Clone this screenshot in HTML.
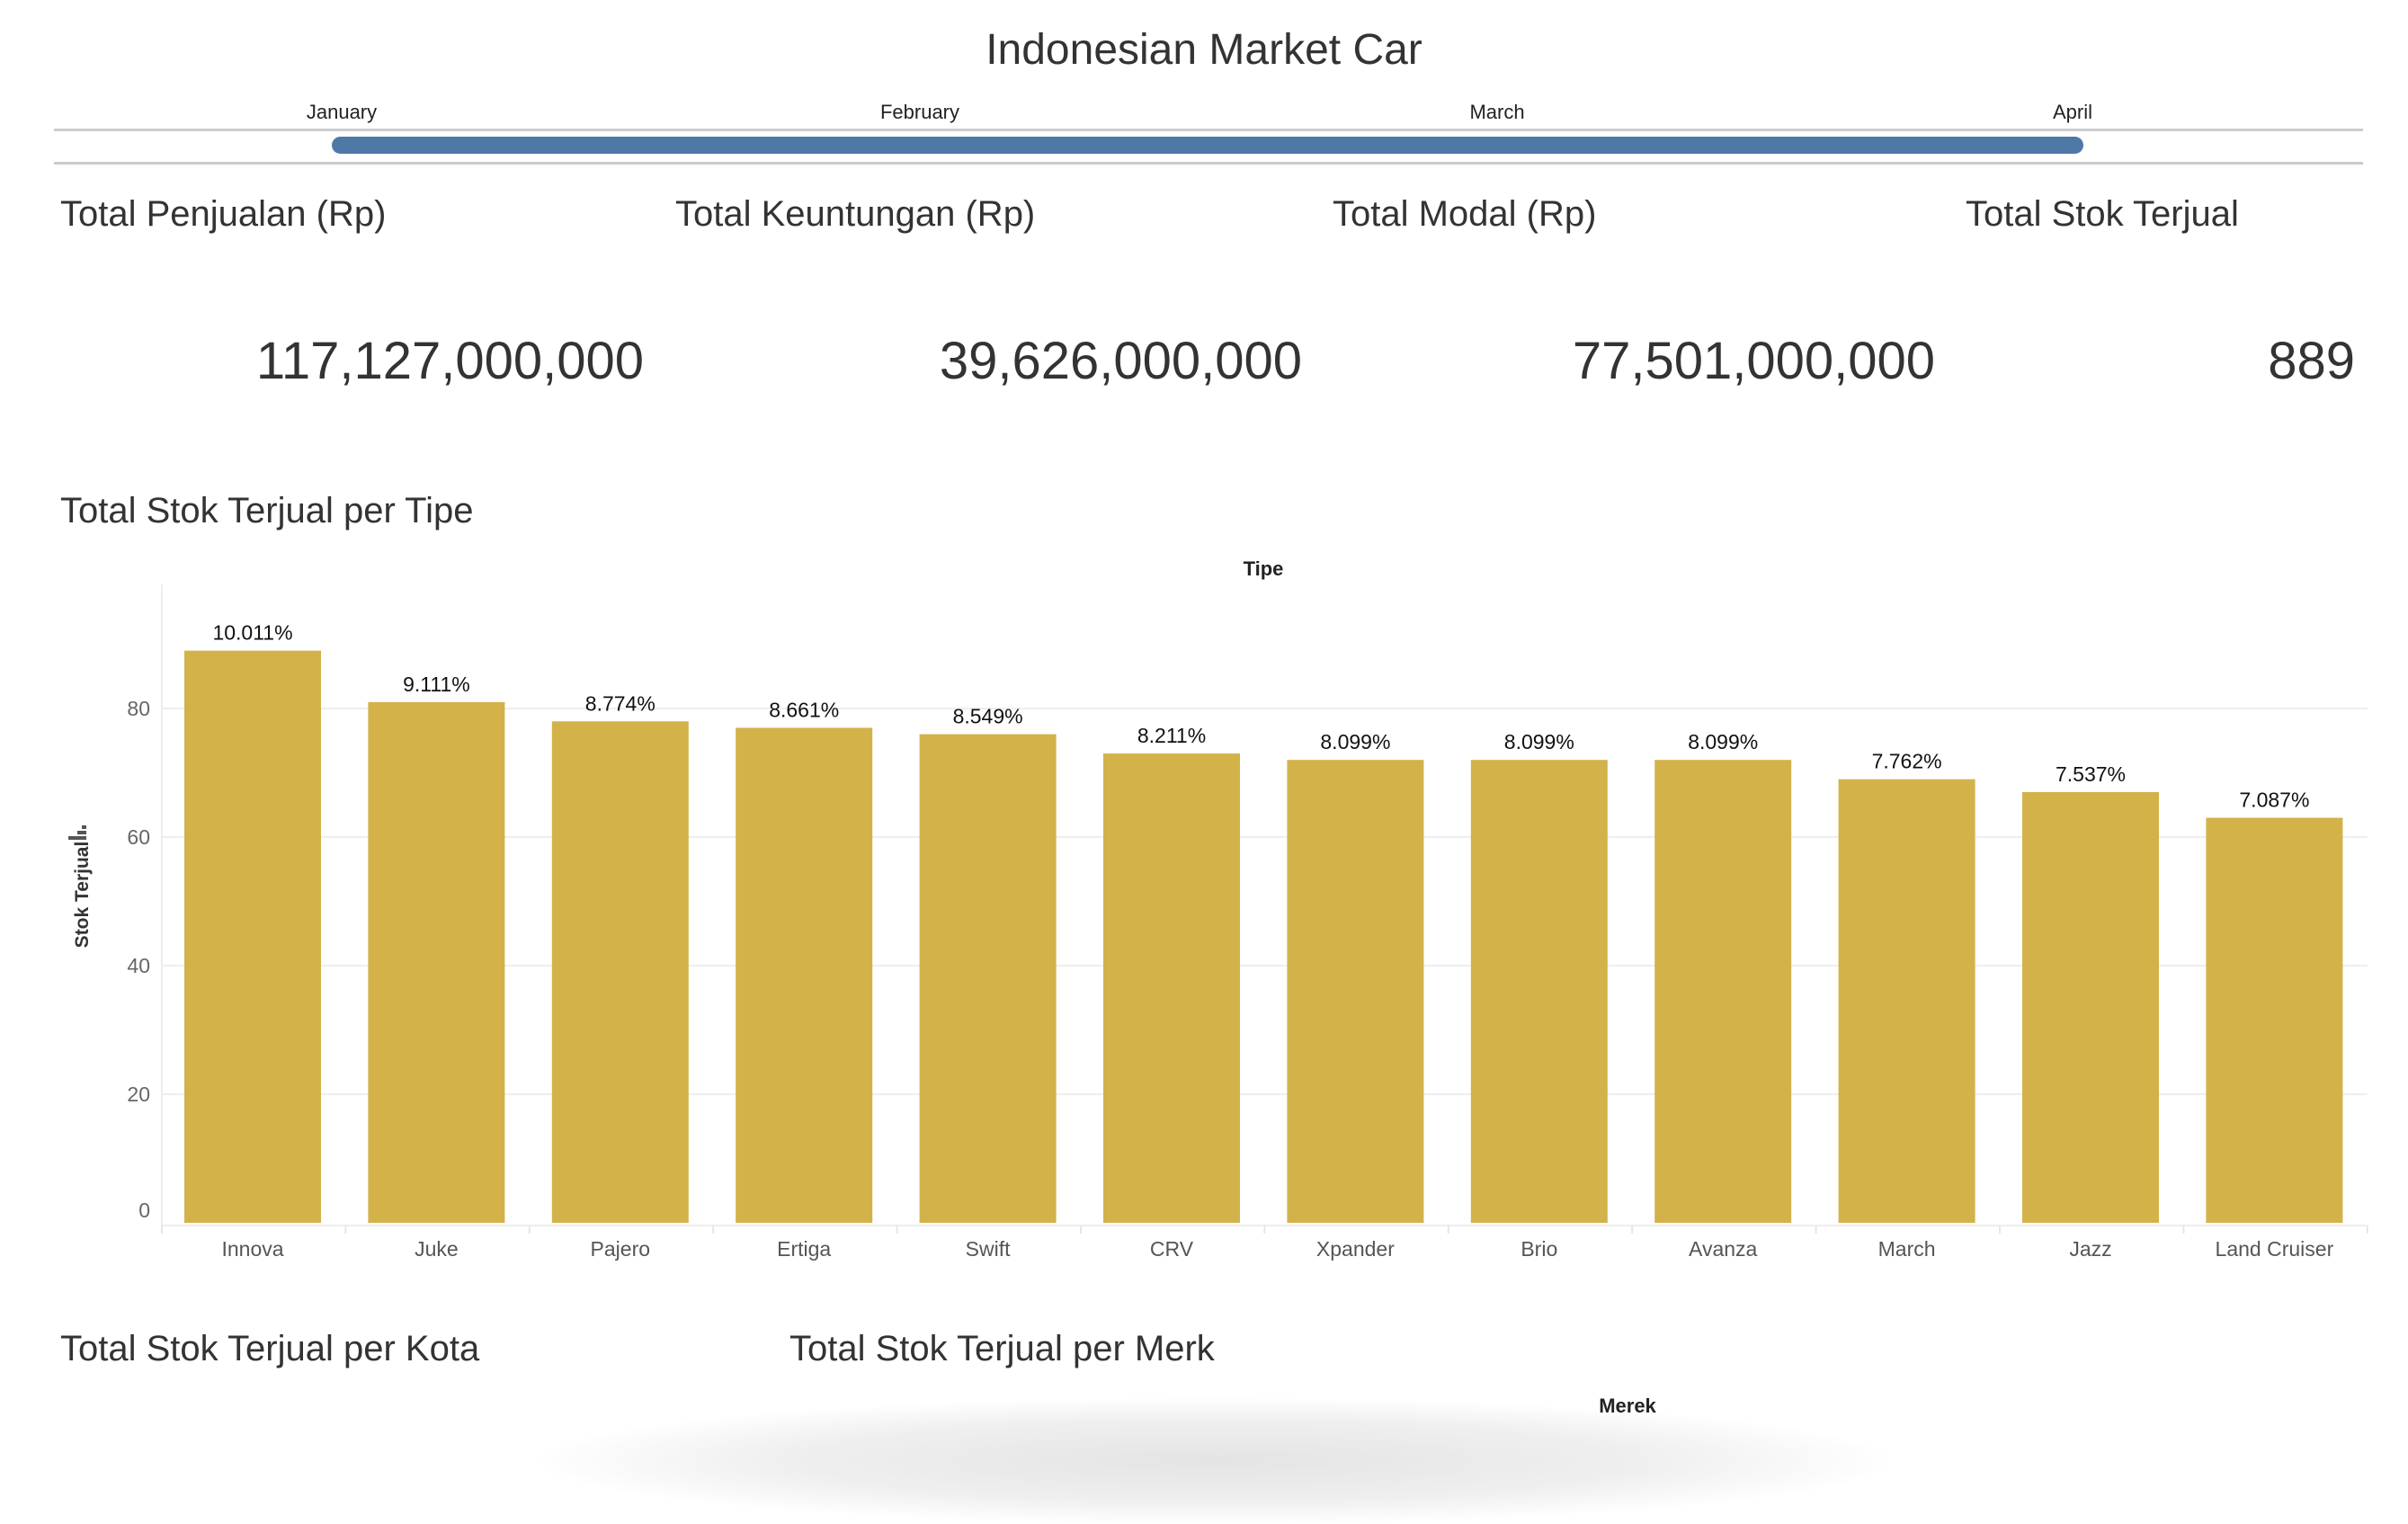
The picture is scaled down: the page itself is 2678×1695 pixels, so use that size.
<!DOCTYPE html>
<html><head><meta charset="utf-8"><style>
body{margin:0;width:2678px;height:1602px;background:#fff;overflow:hidden;font-family:"Liberation Sans",sans-serif;position:relative;color:#333}
.a{position:absolute;white-space:nowrap}
</style></head><body>
<div class="a" style="left:0;width:2678px;text-align:center;top:28px;font-size:48px;color:#333">Indonesian Market Car</div>
<div class="a" style="left:330px;width:100px;text-align:center;top:112px;font-size:22px;color:#222">January</div>
<div class="a" style="left:973px;width:100px;text-align:center;top:112px;font-size:22px;color:#222">February</div>
<div class="a" style="left:1615px;width:100px;text-align:center;top:112px;font-size:22px;color:#222">March</div>
<div class="a" style="left:2255px;width:100px;text-align:center;top:112px;font-size:22px;color:#222">April</div>
<div class="a" style="left:60px;width:2568px;top:143px;height:3px;background:#ccc"></div>
<div class="a" style="left:60px;width:2568px;top:180px;height:3px;background:#ccc"></div>
<div class="a" style="left:369px;width:1948px;top:152px;height:19px;border-radius:10px;background:#4e79a7"></div>

<div class="a" style="left:67px;top:216px;font-size:40px">Total Penjualan (Rp)</div>
<div class="a" style="left:751px;top:216px;font-size:40px">Total Keuntungan (Rp)</div>
<div class="a" style="left:1482px;top:216px;font-size:40px">Total Modal (Rp)</div>
<div class="a" style="left:2186px;top:216px;font-size:40px">Total Stok Terjual</div>
<div class="a" style="right:1962px;top:368px;font-size:58px">117,127,000,000</div>
<div class="a" style="right:1230px;top:368px;font-size:58px">39,626,000,000</div>
<div class="a" style="right:526px;top:368px;font-size:58px">77,501,000,000</div>
<div class="a" style="right:59px;top:368px;font-size:58px">889</div>

<div class="a" style="left:67px;top:546px;font-size:40px">Total Stok Terjual per Tipe</div>
<svg class="a" id="chart" style="left:0;top:600px" width="2678" height="820"></svg>

<div class="a" style="left:67px;top:1478px;font-size:40px">Total Stok Terjual per Kota</div>
<div class="a" style="left:878px;top:1478px;font-size:40px">Total Stok Terjual per Merk</div>
<div class="a" style="left:600px;width:1500px;top:1555px;height:140px;border-radius:50%;background:radial-gradient(ellipse at center,#e4e4e4 0%,#efefef 45%,rgba(255,255,255,0) 72%)"></div>
<div class="a" style="left:1760px;width:100px;text-align:center;top:1551px;font-size:22px;font-weight:bold;color:#222">Merek</div>

<script>
const categories=["Innova","Juke","Pajero","Ertiga","Swift","CRV","Xpander","Brio","Avanza","March","Jazz","Land Cruiser"];
const values=[89,81,78,77,76,73,72,72,72,69,67,63];
const yTicks=[0,20,40,60,80];
const NS="http://www.w3.org/2000/svg";
const svg=document.getElementById('chart');
const x0=180,step=204.4,y0=760,pxPer=7.15,total=values.reduce((a,b)=>a+b,0);
const yS=v=>y0-v*pxPer, xS=i=>x0+i*step;
function mk(t,at,txt){const e=document.createElementNS(NS,t);for(const k in at)e.setAttribute(k,at[k]);if(txt!==undefined)e.textContent=txt;svg.appendChild(e);return e;}
yTicks.forEach(t=>{
 if(t>0){const g=mk('line',{x1:x0,x2:xS(12),y1:yS(t),y2:yS(t),stroke:'#eeeeee','stroke-width':2});
 
 }
 const l=mk('text',{x:167,y:yS(t)+(t===0?-6:8),'text-anchor':'end','font-size':23,fill:'#666','font-family':'Liberation Sans'},t);
 
 
});
const ax=mk('line',{x1:x0,x2:x0,y1:50,y2:y0+6,stroke:'#eee','stroke-width':2});


const bl=mk('line',{x1:x0,x2:xS(12),y1:y0+3,y2:y0+3,stroke:'#eee','stroke-width':2});


const tt=mk('text',{x:1405,y:40,'text-anchor':'middle','font-size':22,'font-weight':'bold',fill:'#222','font-family':'Liberation Sans'},'Tipe');


const yt=mk('text',{transform:'translate(98,395) rotate(-90)','text-anchor':'middle','font-size':21,'font-weight':'bold',fill:'#333','font-family':'Liberation Sans'},'Stok Terjual');


const ic=mk('path',{d:'M78 316h4v20h-4zM84 326h4v10h-4zM90 331h4v5h-4z',fill:'#555',transform:'rotate(-90 86 326)'});


for(let i=0;i<=12;i++){const t=mk('line',{x1:xS(i),x2:xS(i),y1:y0+3,y2:y0+12,stroke:'#e6e6e6','stroke-width':2});
 
 }
categories.forEach((c,i)=>{
 const v=values[i];
 const b=mk('rect',{x:xS(i)+25,y:yS(v),width:152,height:v*pxPer,fill:'#d3b24a'});
 
 
 const lb=mk('text',{x:xS(i)+101,y:yS(v)-12,'text-anchor':'middle','font-size':23,fill:'#111','font-family':'Liberation Sans'},(v/total*100).toFixed(3)+'%');
 
 
 const xl=mk('text',{x:xS(i)+101,y:797,'text-anchor':'middle','font-size':23,fill:'#555','font-family':'Liberation Sans'},c);
 
 
});
</script>
</body></html>
